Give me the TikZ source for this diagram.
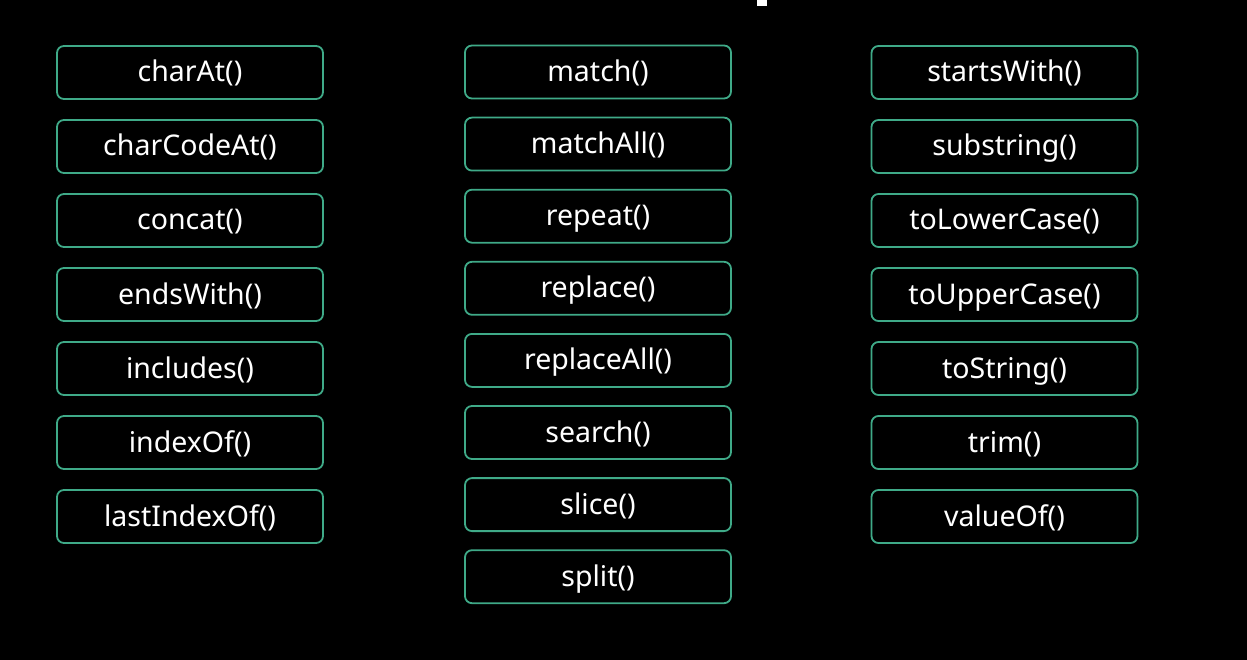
\documentclass[tikz,border=0pt]{standalone}
\usepackage{fontspec}
\setmainfont{Noto Sans}
\definecolor{boxline}{HTML}{3FAA88}
\begin{document}
\begin{tikzpicture}[x=1pt,y=-1pt,
  method/.style={draw=boxline, line width=1.8pt, rounded corners=7pt,
    minimum width=266pt, minimum height=53pt, inner sep=0pt,
    text height=24pt, text depth=5pt,
    text=white, font=\fontsize{28.5}{32}\selectfont},
  ]
  % background
  \fill[black] (0,0) rectangle (1247,660);
  \useasboundingbox (0,0) rectangle (1247,660);
  \fill[white] (757,0) rectangle (767,6);

  % left column
  \foreach \name/\txt [count=\i from 0] in {a1/charAt(), a2/charCodeAt(), a3/concat(), a4/endsWith(), a5/includes(), a6/indexOf(), a7/lastIndexOf()}
    \node[method] (\name) at (190, 72.5+74*\i) {\txt};

  % middle column
  \foreach \name/\txt [count=\i from 0] in {b1/match(), b2/matchAll(), b3/repeat(), b4/replace(), b5/replaceAll(), b6/search(), b7/slice(), b8/split()}
    \node[method] (\name) at (598, 72+72.1*\i) {\txt};

  % right column
  \foreach \name/\txt [count=\i from 0] in {c1/startsWith(), c2/substring(), c3/toLowerCase(), c4/toUpperCase(), c5/toString(), c6/trim(), c7/valueOf()}
    \node[method] (\name) at (1004.5, 72.5+74*\i) {\txt};
\end{tikzpicture}
\end{document}
